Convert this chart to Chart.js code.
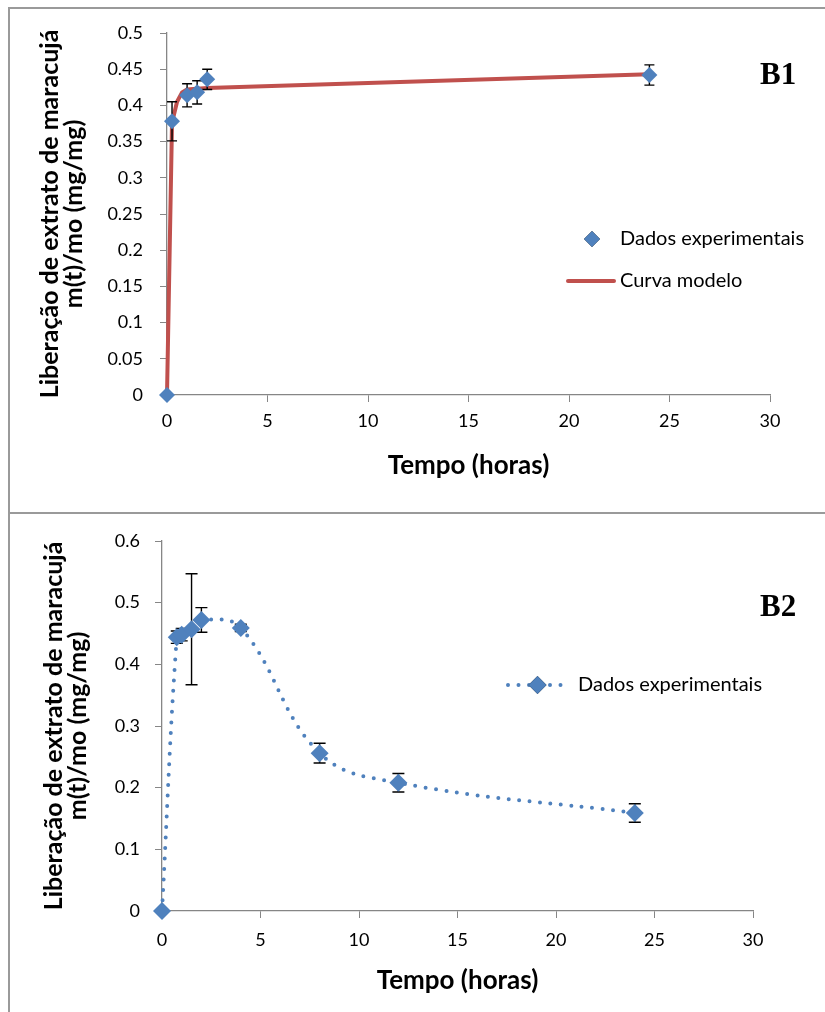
<!DOCTYPE html>
<html lang="pt">
<head>
    <meta charset="UTF-8">
    <title>Liberação de extrato de maracujá</title>
    <style>
        body {
            margin: 0;
            background: #fff;
        }
        #page {
            position: relative;
            width: 825px;
            height: 1012px;
            overflow: hidden;
        }
        .rule {
            position: absolute;
            background: #9a9a9a;
        }
        canvas {
            position: absolute;
            left: 0;
        }
        .tag {
            position: absolute;
            font-family: "Liberation Serif", serif;
            font-weight: bold;
            font-size: 31px;
            color: #000;
        }
    </style>
    <script src="https://cdn.jsdelivr.net/npm/chart.js@4.4.1/dist/chart.umd.min.js"></script>
</head>
<body>
    <div id="page">
        <div class="rule" style="left:8px; top:7px; width:817px; height:2px"></div>
        <div class="rule" style="left:8px; top:512px; width:817px; height:2px"></div>
        <div class="rule" style="left:8px; top:7px; width:2px; height:1005px"></div>
        <canvas id="graphB1" width="825" height="512" style="top:0"></canvas>
        <canvas id="graphB2" width="825" height="498" style="top:514px"></canvas>
        <div class="tag" style="left:760px; top:56px">B1</div>
        <div class="tag" style="left:760px; top:588px">B2</div>
    </div>
    <script>
        // B1 : dados experimentais + curva modelo
        const timeB1 = [0, 0.25, 1, 1.5, 2, 24];
        const releaseB1 = [0, 0.378, 0.414, 0.418, 0.436, 0.442];
        const errB1 = [0, 0.027, 0.016, 0.016, 0.014, 0.014];

        const timeModel = [0, 0.25, 0.5, 0.75, 1, 2, 24];
        const releaseModel = [0, 0.376, 0.405, 0.418, 0.422, 0.424, 0.443];

        // B2 : dados experimentais
        const timeB2 = [0, 0.75, 1, 1.5, 2, 4, 8, 12, 24];
        const releaseB2 = [0, 0.444, 0.448, 0.457, 0.472, 0.459, 0.256, 0.208, 0.159];
        const errB2 = [0, 0.01, 0.01, 0.09, 0.02, 0.006, 0.016, 0.015, 0.015];

        const xTicks = [0, 5, 10, 15, 20, 25, 30];
        const yTicksB1 = [0, 0.05, 0.1, 0.15, 0.2, 0.25, 0.3, 0.35, 0.4, 0.45, 0.5];
        const yTicksB2 = [0, 0.1, 0.2, 0.3, 0.4, 0.5, 0.6];

        const yTitle = ['Liberação de extrato de maracujá', 'm(t)/mo (mg/mg)'];
        const xTitle = 'Tempo (horas)';

        const BLUE = '#4F81BD';
        const RED = '#C0504D';
        const AXIS = '#868686';

        Chart.defaults.font.family = 'Lato';
        Chart.defaults.color = '#000';

        function pairs(xs, ys) {
            return xs.map((x, i) => ({x: x, y: ys[i]}));
        }

        // barras de erro, desenhadas por baixo dos marcadores
        const errorBars = {
            id: 'errorBars',
            beforeDatasetDraw(chart, args) {
                const ds = chart.data.datasets[args.index];
                if (!ds.errors) return;
                const sx = chart.scales.x, sy = chart.scales.y;
                const ctx = chart.ctx;
                const cap = ds.capWidth || 5;
                ctx.save();
                ctx.strokeStyle = '#000';
                ctx.lineWidth = 1.4;
                ds.data.forEach((p, i) => {
                    const e = ds.errors[i];
                    if (!e) return;
                    const px = sx.getPixelForValue(p.x);
                    const top = sy.getPixelForValue(p.y + e);
                    const bot = sy.getPixelForValue(p.y - e);
                    ctx.beginPath();
                    ctx.moveTo(px, top); ctx.lineTo(px, bot);
                    ctx.moveTo(px - cap, top); ctx.lineTo(px + cap, top);
                    ctx.moveTo(px - cap, bot); ctx.lineTo(px + cap, bot);
                    ctx.stroke();
                });
                ctx.restore();
            }
        };

        // legenda solta dentro da area do grafico
        const freeLegend = {
            id: 'freeLegend',
            afterDraw(chart, args, opts) {
                const ctx = chart.ctx;
                ctx.save();
                ctx.font = '20px Lato';
                ctx.fillStyle = '#000';
                ctx.textBaseline = 'middle';
                opts.items.forEach(it => {
                    const ds = chart.data.datasets[it.index];
                    if (ds.showLine !== false) {
                        ctx.save();
                        ctx.strokeStyle = ds.borderColor;
                        ctx.lineWidth = ds.borderWidth;
                        ctx.lineCap = 'round';
                        ctx.setLineDash(ds.borderDash || []);
                        ctx.beginPath();
                        ctx.moveTo(it.x0, it.y);
                        ctx.lineTo(it.x1, it.y);
                        ctx.stroke();
                        ctx.restore();
                    }
                    if (ds.pointRadius > 0) {
                        Chart.helpers.drawPoint(ctx, {
                            pointStyle: 'rectRot',
                            radius: ds.pointRadius,
                            borderWidth: 0
                        }, (it.x0 + it.x1) / 2, it.y);
                        ctx.fillStyle = ds.pointBackgroundColor;
                        ctx.fill();
                        ctx.fillStyle = '#000';
                    }
                    ctx.fillText(ds.label, it.textX, it.y);
                });
                ctx.restore();
            }
        };

        function yScale(max, ticks, width, pad) {
            return {
                type: 'linear',
                min: 0,
                max: max,
                afterBuildTicks: s => { s.ticks = ticks.map(v => ({value: v})); },
                afterFit: s => {
                    s.width = width;
                    s.paddingTop = 0;
                    s.paddingBottom = 0;
                },
                ticks: {
                    font: {size: 18},
                    padding: pad,
                    callback: v => String(v)
                },
                grid: {drawOnChartArea: false, tickLength: 7, color: AXIS},
                border: {color: AXIS, width: 1.3},
                title: {
                    display: true,
                    text: yTitle,
                    font: {size: 25, weight: 'bold', lineHeight: 0.96},
                    padding: 0
                }
            };
        }

        function xScale(height, pad) {
            return {
                type: 'linear',
                min: 0,
                max: 30,
                afterBuildTicks: s => { s.ticks = xTicks.map(v => ({value: v})); },
                afterFit: s => { s.height = height; },
                ticks: {font: {size: 18}, padding: pad, maxRotation: 0},
                grid: {drawOnChartArea: false, tickLength: 7, color: AXIS},
                border: {color: AXIS, width: 1.3},
                title: {
                    display: true,
                    text: xTitle,
                    font: {size: 26, weight: 'bold', lineHeight: 1.2},
                    padding: 0
                }
            };
        }

        //GRAFICO B1 --------------------------------------------------------------
        new Chart(document.getElementById('graphB1'), {
            type: 'scatter',
            data: {
                datasets: [{
                    label: 'Dados experimentais',
                    data: pairs(timeB1, releaseB1),
                    errors: errB1,
                    capWidth: 5,
                    showLine: false,
                    pointStyle: 'rectRot',
                    pointRadius: 8,
                    pointBackgroundColor: BLUE,
                    pointBorderWidth: 0,
                    clip: false
                }, {
                    label: 'Curva modelo',
                    data: pairs(timeModel, releaseModel),
                    showLine: true,
                    borderColor: RED,
                    borderWidth: 4,
                    pointRadius: 0,
                    tension: 0,
                    clip: false
                }]
            },
            options: {
                responsive: false,
                animation: false,
                events: [],
                layout: {padding: {left: 38, top: 33, right: 55, bottom: 31}},
                plugins: {
                    legend: {display: false},
                    tooltip: {enabled: false},
                    freeLegend: {
                        items: [
                            {index: 0, x0: 574, x1: 610, y: 239, textX: 620},
                            {index: 1, x0: 568, x1: 614, y: 281, textX: 620}
                        ]
                    }
                },
                scales: {
                    x: xScale(86, 8),
                    y: yScale(0.5, yTicksB1, 129, 17)
                }
            },
            plugins: [errorBars, freeLegend]
        });

        //GRAFICO B2 --------------------------------------------------------------
        new Chart(document.getElementById('graphB2'), {
            type: 'scatter',
            data: {
                datasets: [{
                    label: 'Dados experimentais',
                    data: pairs(timeB2, releaseB2),
                    errors: errB2,
                    capWidth: 6,
                    showLine: true,
                    borderColor: BLUE,
                    borderWidth: 4,
                    borderDash: [0, 10.5],
                    borderCapStyle: 'round',
                    tension: 0.4,
                    pointStyle: 'rectRot',
                    pointRadius: 9,
                    pointBackgroundColor: BLUE,
                    pointBorderWidth: 0,
                    clip: false
                }]
            },
            options: {
                responsive: false,
                animation: false,
                events: [],
                layout: {padding: {left: 42, top: 27, right: 72, bottom: 16}},
                plugins: {
                    legend: {display: false},
                    tooltip: {enabled: false},
                    freeLegend: {
                        items: [
                            {index: 0, x0: 508, x1: 567, y: 171, textX: 578}
                        ]
                    }
                },
                scales: {
                    x: xScale(85, 11),
                    y: yScale(0.6, yTicksB2, 120, 15)
                }
            },
            plugins: [errorBars, freeLegend]
        });
    </script>
</body>
</html>
